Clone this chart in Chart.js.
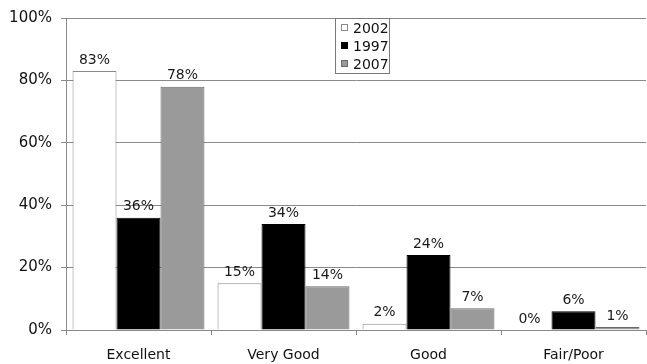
<!DOCTYPE html>
<html>
<head>
<meta charset="utf-8">
<script src="https://cdn.jsdelivr.net/npm/chart.js@4/dist/chart.umd.min.js"></script>
<style>
  html, body { margin: 0; padding: 0; background: #ffffff; }
  #wrap { width: 647px; height: 364px; }
</style>
</head>
<body>
<div id="wrap"><canvas id="chart" width="647" height="364"></canvas></div>
<script>
// Self-rated health categories
const categories = ['Excellent', 'Very Good', 'Good', 'Fair/Poor'];

// Share of respondents per category, in percent
const series2002 = [83, 15, 2, 0];
const series1997 = [36, 34, 24, 6];
const series2007 = [78, 14, 7, 1];

const seriesLabels = ['2002', '1997', '2007'];

// Y axis ticks
const yTicks = [0, 20, 40, 60, 80, 100];

const FONT = '"DejaVu Sans", Verdana, sans-serif';
const GRID = '#8a8a8a';

// Value labels above each bar
const valueLabels = {
  id: 'valueLabels',
  afterDatasetsDraw(chart) {
    const ctx = chart.ctx;
    ctx.save();
    ctx.font = '14px ' + FONT;
    ctx.fillStyle = '#1a1a1a';
    ctx.textAlign = 'center';
    ctx.textBaseline = 'middle';
    chart.data.datasets.forEach((ds, i) => {
      const meta = chart.getDatasetMeta(i);
      meta.data.forEach((bar, j) => {
        ctx.fillText(ds.data[j] + '%', bar.x, bar.y - 11);
      });
    });
    ctx.restore();
  }
};

// Boxed legend inside the plot area
const boxLegend = {
  id: 'boxLegend',
  afterDraw(chart) {
    const ctx = chart.ctx;
    const area = chart.chartArea;
    const x = area.left + 269, y = area.top, w = 54, h = 55;
    ctx.save();
    ctx.fillStyle = '#ffffff';
    ctx.fillRect(x, y, w, h);
    ctx.strokeStyle = '#7a7a7a';
    ctx.lineWidth = 1;
    ctx.strokeRect(x + 0.5, y + 0.5, w, h);
    ctx.font = '14px ' + FONT;
    ctx.textBaseline = 'middle';
    ctx.textAlign = 'left';
    chart.data.datasets.forEach((ds, i) => {
      const cy = y + 10 + i * 18;
      ctx.fillStyle = ds.backgroundColor;
      ctx.fillRect(x + 6, cy - 4, 7, 7);
      ctx.strokeStyle = ds.borderColor;
      ctx.strokeRect(x + 6.5, cy - 3.5, 6, 6);
      ctx.fillStyle = '#111111';
      ctx.fillText(ds.label, x + 18, cy + 1);
    });
    ctx.restore();
  }
};

new Chart(document.getElementById('chart'), {
  type: 'bar',
  data: {
    labels: categories,
    datasets: [
      { label: seriesLabels[0], data: series2002, backgroundColor: '#ffffff', borderColor: '#8a8a8a', borderWidth: 1 },
      { label: seriesLabels[1], data: series1997, backgroundColor: '#000000', borderColor: '#000000', borderWidth: 1 },
      { label: seriesLabels[2], data: series2007, backgroundColor: '#9a9a9a', borderColor: '#6a6a6a', borderWidth: 1 }
    ]
  },
  options: {
    responsive: false,
    animation: false,
    layout: { padding: { left: 0, right: 1, top: 17, bottom: 0 } },
    datasets: { bar: { categoryPercentage: 0.91, barPercentage: 1.0 } },
    plugins: {
      legend: { display: false },
      tooltip: { enabled: false }
    },
    scales: {
      x: {
        offset: true,
        grid: {
          offset: true,
          drawOnChartArea: false,
          drawTicks: true,
          tickLength: 5,
          color: GRID
        },
        border: { display: true, color: GRID, width: 1 },
        ticks: {
          color: '#111111',
          font: { family: FONT, size: 14 },
          padding: 12,
          maxRotation: 0
        },
        afterFit(scale) { scale.height = 34; }
      },
      y: {
        min: 0,
        max: 100,
        afterBuildTicks(scale) { scale.ticks = yTicks.map(v => ({ value: v })); },
        grid: {
          color: GRID,
          tickLength: 5,
          drawTicks: true
        },
        border: { display: true, color: GRID, width: 1 },
        ticks: {
          color: '#111111',
          font: { family: FONT, size: 15 },
          padding: 9,
          callback: v => v + '%'
        },
        afterFit(scale) { scale.width = 66; }
      }
    }
  },
  plugins: [valueLabels, boxLegend]
});
</script>
</body>
</html>
